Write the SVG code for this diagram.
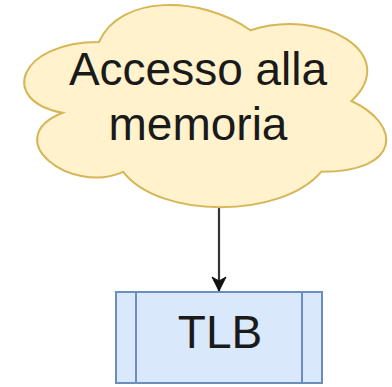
<svg xmlns="http://www.w3.org/2000/svg" width="392" height="387" viewBox="0 0 392 387">
  <style>
    .lbl { font-family: "Liberation Sans", Arial, sans-serif; font-size: 46px; fill: #1a1a1a; text-anchor: middle; }
    .cloud { fill: #fff2cc; stroke: #d6b656; stroke-width: 2; }
    .proc { fill: #dae8fc; stroke: #6c8ebf; stroke-width: 2; }
    .edge { fill: none; stroke: #333333; stroke-width: 2.2; }
  </style>
  <defs>
    <marker id="arrow" viewBox="0 0 16 16" refX="15" refY="8" markerWidth="16" markerHeight="16" markerUnits="userSpaceOnUse" orient="auto">
      <path d="M1 1 L15 8 L1 15 L5 8 Z" fill="#111111" stroke="#111111" stroke-width="1"/>
    </marker>
  </defs>
  <rect width="392" height="387" fill="#ffffff"/>
  <g id="connectors">
    <line class="edge" x1="219" y1="207" x2="219" y2="291" marker-end="url(#arrow)"/>
  </g>
  <g id="cloud">
    <path class="cloud" d="M99 42 C18.2 42 -2 101 62.6 112.8 C-2 138.8 70.7 195.4 123.2 171.8 C159.6 219 280.8 219 321.2 171.8 C402 171.8 402 124.6 351.5 101 C402 53.8 321.2 6.6 250.5 30.2 C200 -5.2 119.2 -5.2 99 42 Z"/>
    <text class="lbl" x="198" y="85">Accesso alla</text>
    <text class="lbl" x="198" y="140">memoria</text>
  </g>
  <g id="tlb">
    <rect class="proc" x="116" y="292" width="206" height="91"/>
    <line class="proc" x1="136" y1="292" x2="136" y2="383"/>
    <line class="proc" x1="302" y1="292" x2="302" y2="383"/>
    <text class="lbl" x="220" y="348">TLB</text>
  </g>
</svg>
